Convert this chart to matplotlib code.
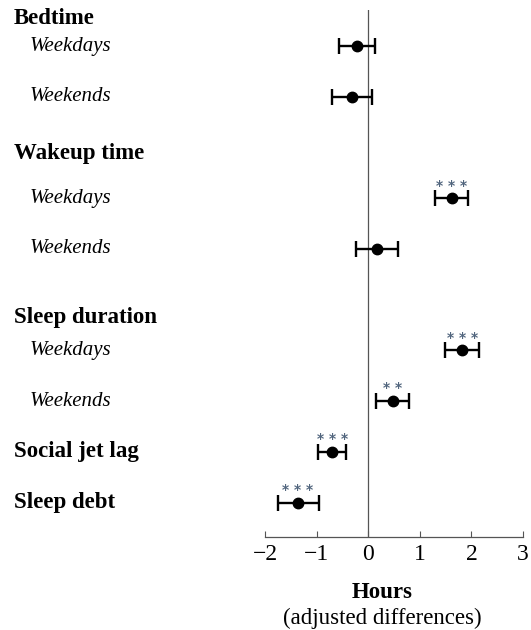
import matplotlib
matplotlib.use("Agg")
import matplotlib.pyplot as plt
import numpy as np

# Adjusted differences (hours) with 95% CI
rows = ["Bedtime weekdays", "Bedtime weekends",
        "Wakeup weekdays", "Wakeup weekends",
        "Sleep weekdays", "Sleep weekends",
        "Social jet lag", "Sleep debt"]
row_pos = [0, 1, 3, 4, 6, 7, 8, 9]
estimate = [-0.21, -0.31, 1.62, 0.17, 1.82, 0.48, -0.70, -1.36]
ci_low = [-0.56, -0.71, 1.29, -0.23, 1.49, 0.16, -0.97, -1.74]
ci_high = [0.13, 0.08, 1.93, 0.58, 2.14, 0.80, -0.43, -0.96]
signif = ["", "", "***", "", "***", "**", "***", "***"]

# left hand labels: (text, position)
headers = [("Bedtime", -0.55), ("Wakeup time", 2.11), ("Sleep duration", 5.35)]
sub_labels = [("Weekdays", 0), ("Weekends", 1), ("Weekdays", 3), ("Weekends", 4),
              ("Weekdays", 6), ("Weekends", 7)]
bold_rows = [("Social jet lag", 8), ("Sleep debt", 9)]

xticks = [-2, -1, 0, 1, 2, 3]

serif = "Liberation Serif"
W, H = 531, 630
fig = plt.figure(figsize=(W / 100, H / 100), dpi=100)
ax = fig.add_axes([265 / W, 1 - 537 / H, 258 / W, 527 / H])

est = np.array(estimate)
err = np.vstack([est - np.array(ci_low), np.array(ci_high) - est])
ax.axvline(0, color="#555555", lw=0.9, zorder=1)
ax.errorbar(est, row_pos, xerr=err, fmt="o", color="black", ms=7.5,
            elinewidth=1.7, capsize=5.5, capthick=1.7, zorder=3)

for x, y, s in zip(estimate, row_pos, signif):
    if s:
        ax.text(x, y - 0.17, " ".join(s), ha="center", va="baseline", fontsize=10,
                color="#52667e", family="DejaVu Sans", fontweight="bold")

ax.set_xlim(-2, 3)
ax.set_ylim(9.68, -0.71)
ax.set_xticks(xticks)
ax.set_xticklabels(["\u22122", "\u22121", "0", "1", "2", "3"],
                   family=serif, fontsize=17)
ax.set_yticks([])
for side in ["top", "right", "left"]:
    ax.spines[side].set_visible(False)
ax.spines["bottom"].set_color("#555555")
ax.spines["bottom"].set_linewidth(0.9)
ax.tick_params(axis="x", direction="in", length=4, color="#555555", pad=5)


# row labels in figure coordinates
def fig_y(pos):
    return ax.transData.transform((0, pos))[1] / H


for txt, pos in headers + bold_rows:
    fig.text(14 / W, fig_y(pos), txt, family=serif, fontweight="bold",
             fontsize=16.5, va="center", ha="left")
for txt, pos in sub_labels:
    fig.text(30 / W, fig_y(pos), txt, family=serif, style="italic",
             fontsize=15, va="center", ha="left")

fig.text(382 / W, 1 - 593 / H, "Hours", family=serif, fontweight="bold",
         fontsize=16.5, ha="center", va="center")
fig.text(382 / W, 1 - 618 / H, "(adjusted differences)", family=serif,
         fontsize=16.5, ha="center", va="center")

fig.savefig("out.png", dpi=100)
